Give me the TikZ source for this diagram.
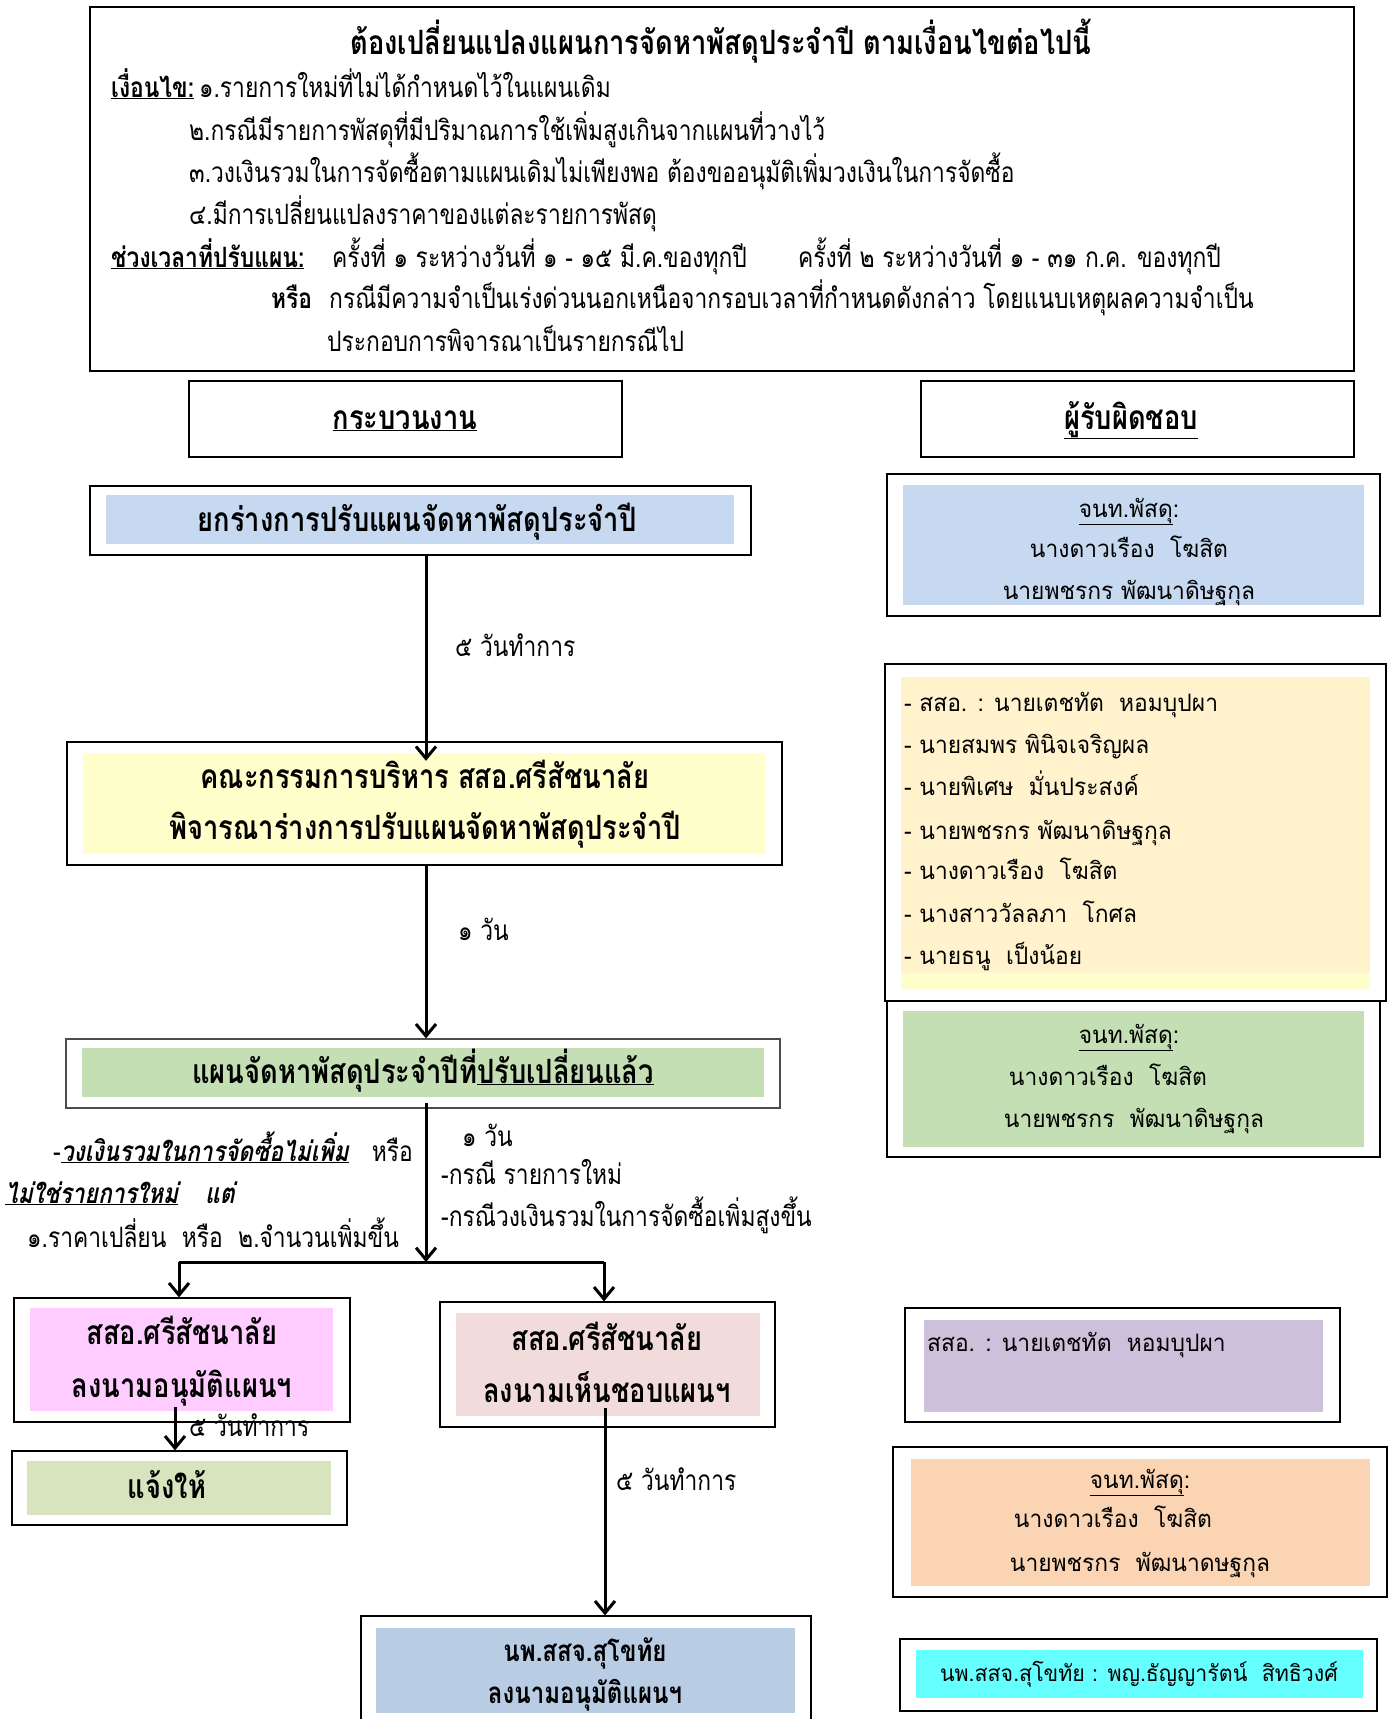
\documentclass[tikz,border=0pt]{standalone}
\usepackage{fontspec}
\usetikzlibrary{arrows.meta}
\newfontfamily\thr[Script=Thai,FakeStretch=0.95]{Loma}
\newfontfamily\thc[Script=Thai,FakeStretch=0.815]{Loma}
\newfontfamily\thcs[Script=Thai,FakeStretch=0.815,FakeSlant=0.2]{Loma}
\definecolor{cblue}{HTML}{C6D9F1}
\definecolor{cyel}{HTML}{FFFFCC}
\definecolor{cgreen}{HTML}{C4DFB4}
\definecolor{cpink}{HTML}{FFCCFF}
\definecolor{crose}{HTML}{F2DCDB}
\definecolor{colive}{HTML}{D7E4BD}
\definecolor{cblue2}{HTML}{B8CCE4}
\definecolor{ccream}{HTML}{FFF2CC}
\definecolor{cpurple}{HTML}{CCC0DA}
\definecolor{cpeach}{HTML}{FBD4B4}
\definecolor{ccyan}{HTML}{66FFFF}
\begin{document}
\begin{tikzpicture}[x=1pt,y=-1pt,
  outer/.style={draw, line width=2.4pt, rectangle, inner sep=0},
  thinouter/.style={draw, line width=1.3pt, rectangle, inner sep=0},
  fillbox/.style={rectangle, inner sep=0, draw=none},
  ltxt/.style={inner sep=0, anchor=base west, font=\thc\fontsize{28}{34}\selectfont},
  ctxt/.style={inner sep=0, anchor=base, font=\thc\fontsize{28}{34}\selectfont},
  btxt/.style={inner sep=0, anchor=base, font=\thc\bfseries\fontsize{33.5}{40}\selectfont},
  bstxt/.style={inner sep=0, anchor=base, font=\thc\bfseries\fontsize{29.5}{36}\selectfont},
  rtxt/.style={inner sep=0, anchor=base, font=\thr\fontsize{24}{30}\selectfont},
  rltxt/.style={inner sep=0, anchor=base west, font=\thr\fontsize{24}{30}\selectfont},
  arr/.style={line width=3pt, -{Straight Barb[length=12pt,width=20pt,line width=3pt]}},
  plain/.style={line width=3pt}]
\useasboundingbox (0,0) rectangle (1390,1719);
\fill[white] (0,0) rectangle (1390,1719);

% ---------- top conditions box ----------
\node[outer, minimum width=1264, minimum height=364] (top) at (722,189) {};
\node[btxt] (title) at (721,54) {ต้องเปลี่ยนแปลงแผนการจัดหาพัสดุประจำปี ตามเงื่อนไขต่อไปนี้};
\node[ltxt] (c1) at (111,97) {{\bfseries\underline{เงื่อนไข:}}\hspace{5pt}๑.รายการใหม่ที่ไม่ได้กำหนดไว้ในแผนเดิม};
\node[ltxt] (c2) at (189,140) {๒.กรณีมีรายการพัสดุที่มีปริมาณการใช้เพิ่มสูงเกินจากแผนที่วางไว้};
\node[ltxt] (c3) at (189,182) {๓.วงเงินรวมในการจัดซื้อตามแผนเดิมไม่เพียงพอ ต้องขออนุมัติเพิ่มวงเงินในการจัดซื้อ};
\node[ltxt] (c4) at (189,224) {๔.มีการเปลี่ยนแปลงราคาของแต่ละรายการพัสดุ};
\node[ltxt] (p1) at (111,267) {\bfseries\underline{ช่วงเวลาที่ปรับแผน:}};
\node[ltxt] (p2) at (332,267) {ครั้งที่ ๑ ระหว่างวันที่ ๑ - ๑๕ มี.ค.ของทุกปี};
\node[ltxt] (p3) at (798,267) {ครั้งที่ ๒ ระหว่างวันที่ ๑ - ๓๑ ก.ค. ของทุกปี};
\node[ltxt] (o1) at (271,308) {\bfseries หรือ};
\node[ltxt] (o2) at (329,308) {กรณีมีความจำเป็นเร่งด่วนนอกเหนือจากรอบเวลาที่กำหนดดังกล่าว โดยแนบเหตุผลความจำเป็น};
\node[ltxt] (o3) at (327,351) {ประกอบการพิจารณาเป็นรายกรณีไป};

% ---------- headers ----------
\node[outer, minimum width=433, minimum height=76] (h1) at (405.5,419) {};
\node[btxt] (h1t) at (405,429) {\underline{กระบวนงาน}};
\node[outer, minimum width=433, minimum height=76] (h2) at (1137.5,419) {};
\node[btxt] (h2t) at (1131,429) {\underline{ผู้รับผิดชอบ}};

% ---------- flow ----------
\node[outer, minimum width=661, minimum height=69] (b1) at (420.5,520.5) {};
\node[fillbox, fill=cblue, minimum width=628, minimum height=49] (b1in) at (420,519.5) {};
\node[btxt] (b1t) at (417,531) {ยกร่างการปรับแผนจัดหาพัสดุประจำปี};

\node[outer, minimum width=715, minimum height=123] (b2) at (424.5,803.5) {};
\node[fillbox, fill=cyel, minimum width=682, minimum height=101] (b2in) at (424,803.5) {};
\node[btxt] (b2t1) at (425,788) {คณะกรรมการบริหาร สสอ.ศรีสัชนาลัย};
\node[btxt] (b2t2) at (425,839) {พิจารณาร่างการปรับแผนจัดหาพัสดุประจำปี};

\node[thinouter, draw=black!70, minimum width=714, minimum height=69] (b3) at (423,1073.5) {};
\node[fillbox, fill=cgreen, minimum width=682, minimum height=49] (b3in) at (423,1072.5) {};
\node[btxt] (b3t) at (423,1083) {แผนจัดหาพัสดุประจำปีที่\underline{ปรับเปลี่ยนแล้ว}};

\node[thinouter, minimum width=336, minimum height=124] (b4) at (182,1360) {};
\node[fillbox, fill=cpink, minimum width=303, minimum height=103] (b4in) at (181.5,1359.5) {};
\node[btxt] (b4t1) at (182,1344) {สสอ.ศรีสัชนาลัย};
\node[btxt] (b4t2) at (182,1397) {ลงนามอนุมัติแผนฯ};

\node[thinouter, minimum width=335, minimum height=74] (b6) at (179.5,1488) {};
\node[fillbox, fill=colive, minimum width=304, minimum height=54] (b6in) at (179,1488) {};
\node[btxt] (b6t) at (167,1498) {แจ้งให้};

\node[thinouter, minimum width=335, minimum height=125] (b5) at (607.5,1364.5) {};
\node[fillbox, fill=crose, minimum width=304, minimum height=103] (b5in) at (608,1364.5) {};
\node[btxt] (b5t1) at (607,1350) {สสอ.ศรีสัชนาลัย};
\node[btxt] (b5t2) at (607,1402) {ลงนามเห็นชอบแผนฯ};

\node[thinouter, minimum width=450, minimum height=114] (b7) at (586,1673) {};
\node[fillbox, fill=cblue2, minimum width=419, minimum height=85] (b7in) at (585.5,1670.5) {};
\node[bstxt] (b7t1) at (585,1661) {นพ.สสจ.สุโขทัย};
\node[bstxt] (b7t2) at (585,1703) {ลงนามอนุมัติแผนฯ};

% ---------- connectors ----------
\coordinate (spine) at (426,0);
\coordinate (j) at (426,1262);
\coordinate (jl) at (179,1262);
\coordinate (jr) at (604,1262);
\coordinate (x4) at (175,0);
\coordinate (x5) at (605,0);
\draw[arr] (b1.south -| spine) -- ([yshift=-20pt]b2.north -| spine);
\draw[arr] (b2.south -| spine) -- (b3.north -| spine);
\draw[arr] ([yshift=6pt]b3.south -| spine) -- (j);
\draw[plain] (jl) -- (jr);
\draw[arr] (jl) -- (b4.north -| jl);
\draw[arr] (jr) -- (b5.north -| jr);
\draw[arr] ([yshift=4pt]b4in.south -| x4) -- (b6.north -| x4);
\draw[arr] ([yshift=8pt]b5in.south -| x5) -- (b7.north -| x5);

% ---------- connector labels ----------
\node[ltxt] (l1) at (455,656) {๕ วันทำการ};
\node[ltxt] (l2) at (458,940) {๑ วัน};
\node[ltxt] (l3) at (462,1146) {๑ วัน};
\node[ltxt] (l4) at (441,1184) {-กรณี รายการใหม่};
\node[ltxt] (l5) at (441,1226) {-กรณีวงเงินรวมในการจัดซื้อเพิ่มสูงขึ้น};
\node[ltxt] (l6) at (53,1161) {-{\thcs\bfseries\underline{วงเงินรวมในการจัดซื้อไม่เพิ่ม}}\ \ \ หรือ};
\node[ltxt] (l7) at (5,1203) {{\thcs\bfseries\underline{ไม่ใช่รายการใหม่}}\hspace{27pt}{\thcs\bfseries แต่}};
\node[ltxt] (l8) at (27,1247) {๑.ราคาเปลี่ยน\ \ หรือ\ \ ๒.จำนวนเพิ่มขึ้น};
\node[ltxt] (l9) at (189,1436) {๕ วันทำการ};
\node[ltxt] (l10) at (616,1490) {๕ วันทำการ};

% ---------- responsibility column ----------
\node[outer, minimum width=493, minimum height=142] (r1) at (1133.5,545) {};
\node[fillbox, fill=cblue, minimum width=461, minimum height=120] (r1in) at (1133.5,545) {};
\node[rtxt] (r1t1) at (1129,517) {\underline{จนท.พัสดุ}:};
\node[rtxt] (r1t2) at (1129,557) {นางดาวเรือง\ \ โฆสิต};
\node[rtxt] (r1t3) at (1129,599) {นายพชรกร พัฒนาดิษฐกุล};

\node[outer, minimum width=501, minimum height=337] (r2) at (1135.5,832.5) {};
\node[fillbox, fill=ccream, minimum width=469, minimum height=296, anchor=north] (r2in) at (1135.5,677) {};
\node[fillbox, fill=cyel, minimum width=469, minimum height=17, anchor=north] (r2strip) at (1135.5,973) {};
\node[rltxt] (r2t1) at (904,711) {- สสอ. : นายเตชทัต\ \ หอมบุปผา};
\node[rltxt] (r2t2) at (904,753) {- นายสมพร พินิจเจริญผล};
\node[rltxt] (r2t3) at (904,795) {- นายพิเศษ\ \ มั่นประสงค์};
\node[rltxt] (r2t4) at (904,839) {- นายพชรกร พัฒนาดิษฐกุล};
\node[rltxt] (r2t5) at (904,879) {- นางดาวเรือง\ \ โฆสิต};
\node[rltxt] (r2t6) at (904,922) {- นางสาววัลลภา\ \ โกศล};
\node[rltxt] (r2t7) at (904,964) {- นายธนู\ \ เป็งน้อย};

\node[outer, minimum width=493, minimum height=156] (r3) at (1133.5,1079) {};
\node[fillbox, fill=cgreen, minimum width=461, minimum height=136] (r3in) at (1133.5,1079) {};
\node[rtxt] (r3t1) at (1129,1043) {\underline{จนท.พัสดุ}:};
\node[rtxt] (r3t2) at (1108,1085) {นางดาวเรือง\ \ โฆสิต};
\node[rtxt] (r3t3) at (1134,1127) {นายพชรกร\ \ พัฒนาดิษฐกุล};

\node[outer, minimum width=435, minimum height=114] (r4) at (1122.5,1365) {};
\node[fillbox, fill=cpurple, minimum width=399, minimum height=92] (r4in) at (1123.5,1366) {};
\node[rltxt] (r4t) at (927,1351) {สสอ. : นายเตชทัต\ \ หอมบุปผา};

\node[outer, minimum width=494, minimum height=150] (r5) at (1140,1522) {};
\node[fillbox, fill=cpeach, minimum width=459, minimum height=127] (r5in) at (1140.5,1522.5) {};
\node[rtxt] (r5t1) at (1140,1488) {\underline{จนท.พัสดุ}:};
\node[rtxt] (r5t2) at (1113,1527) {นางดาวเรือง\ \ โฆสิต};
\node[rtxt] (r5t3) at (1140,1571) {นายพชรกร\ \ พัฒนาดษฐกุล};

\node[outer, minimum width=477, minimum height=72] (r6) at (1138.5,1675) {};
\node[fillbox, fill=ccyan, minimum width=447, minimum height=48] (r6in) at (1139.5,1674) {};
\node[rtxt, font=\thr\fontsize{22.5}{28}\selectfont] (r6t) at (1139,1681) {นพ.สสจ.สุโขทัย : พญ.ธัญญารัตน์\ \ สิทธิวงศ์};
\end{tikzpicture}
\end{document}
